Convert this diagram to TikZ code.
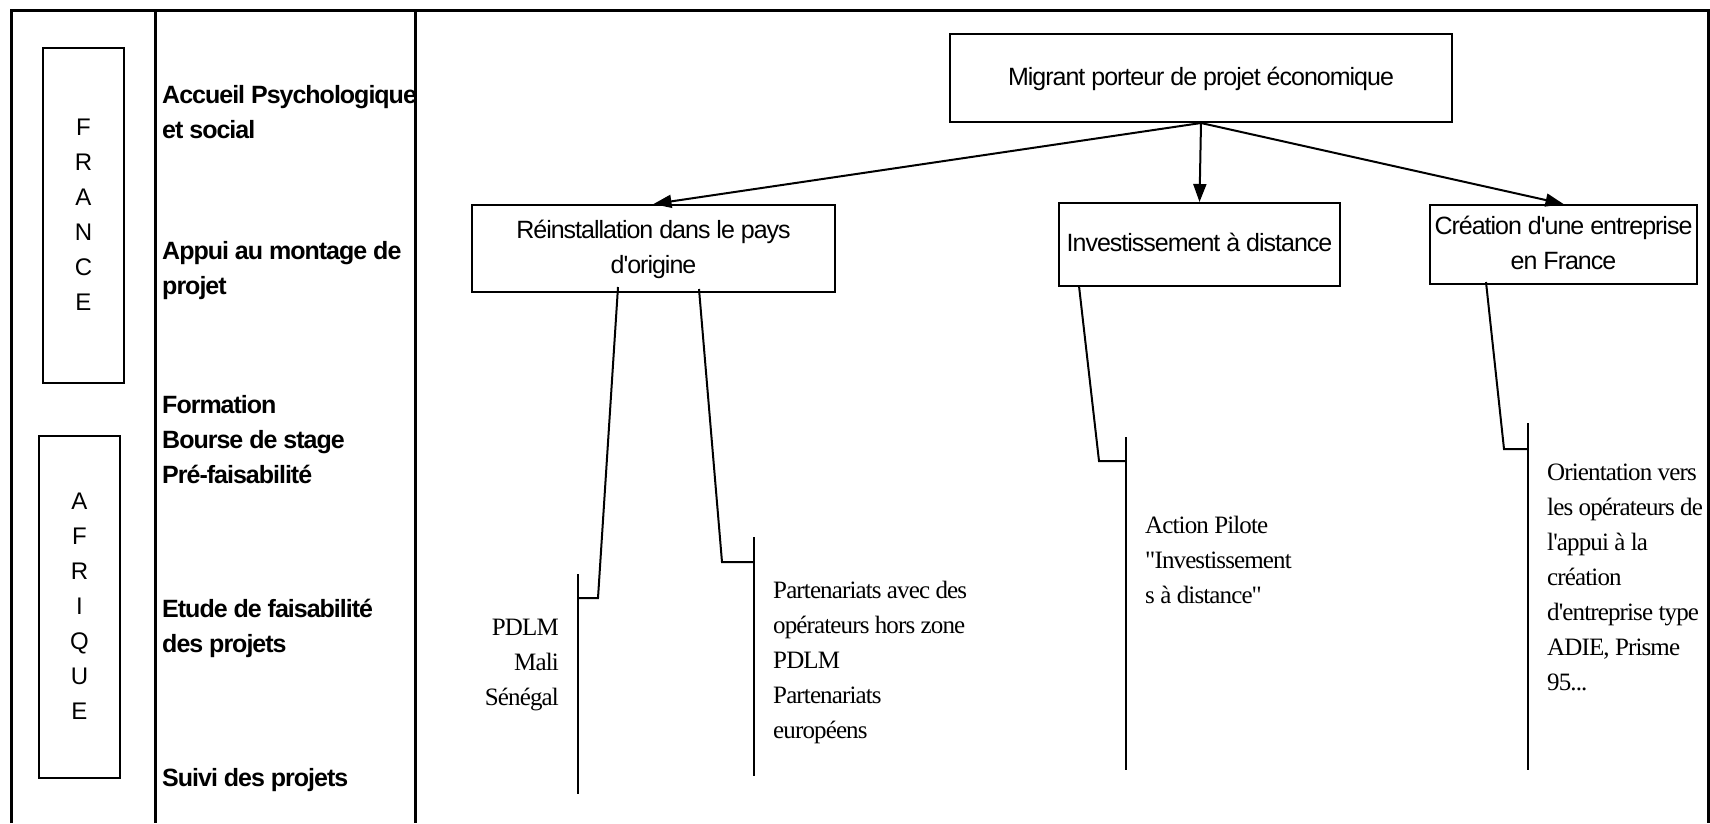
\documentclass[tikz,border=0pt]{standalone}
\usepackage{fontspec}
\setmainfont{Liberation Serif}[Ligatures=TeXOff,LetterSpace=-3.5]
\newfontfamily\sansf{Liberation Sans}[Ligatures=TeXOff,LetterSpace=-4]
\usetikzlibrary{arrows.meta}
\newcommand\Lrows[1]{\begin{tabular}[t]{@{}l@{}}#1\end{tabular}}
\newcommand\Crows[1]{\begin{tabular}[t]{@{}c@{}}#1\end{tabular}}
\newcommand\Rrows[1]{\begin{tabular}[t]{@{}r@{}}#1\end{tabular}}
\begin{document}
\begin{tikzpicture}[x=1pt,y=-1pt,
  box/.style={draw, line width=2pt, inner sep=0pt, font=\sansf\fontsize{25}{35}\selectfont},
  letterbox/.style={draw, line width=1.5pt, inner sep=0pt, minimum width=81pt, font=\sansf\fontsize{24}{35}\selectfont},
  lbl/.style={inner sep=0pt, anchor=base west, font=\sansf\bfseries\fontsize{25}{35}\selectfont},
  note/.style={inner sep=0pt, font=\fontsize{25}{35}\selectfont},
  arr/.style={line width=2pt, -{Triangle[length=18pt,width=13pt]}},
  link/.style={line width=2pt},
  frame/.style={line width=3pt, line join=miter}]
\useasboundingbox (0,0) rectangle (1710,823);
\fill[white] (0,0) rectangle (1710,823);
% frame
\draw[frame] (11,823) -- (11,10) -- (1708,10) -- (1708,823);
\draw[frame] (155,10) -- (155,823);
\draw[frame] (415,10) -- (415,823);
% region boxes
\node[letterbox, minimum height=335pt] (fr) at (83.5,215.5) {\Crows{F\\R\\A\\N\\C\\E}};
\node[letterbox, minimum height=342pt] (af) at (79.5,607) {\Crows{A\\F\\R\\I\\Q\\U\\E}};
% steps
\node[lbl] (s1) at (162,103) {\Lrows{Accueil Psychologique\\et social}};
\node[lbl] (s2) at (162,259) {\Lrows{Appui au montage de\\projet}};
\node[lbl] (s3) at (162,413) {\Lrows{Formation\\Bourse de stage\\Pré-faisabilité}};
\node[lbl] (s4) at (162,617) {\Lrows{Etude de faisabilité\\des projets}};
\node[lbl] (s5) at (162,786) {\Lrows{Suivi des projets}};
% boxes
\node[box, minimum width=502pt, minimum height=88pt] (mig) at (1201,78) {\Crows{Migrant porteur de projet économique}};
\node[box, minimum width=363pt, minimum height=87pt] (rei) at (653.5,248.5) {\Crows{Réinstallation dans le pays\\d'origine}};
\node[box, minimum width=281pt, minimum height=83pt] (inv) at (1199.5,244.5) {\Crows{Investissement à distance}};
\node[box, minimum width=267pt, minimum height=79pt] (cre) at (1563.5,244.5) {\Crows{Création d'une entreprise\\en France}};
% arrows
\draw[arr] (mig.south) -- (rei.north);
\draw[arr] (mig.south) -- (inv.north);
\draw[arr] (mig.south) -- (cre.north);
% brackets
\coordinate (r1s) at (618,287); \coordinate (r1k) at (598,598); \coordinate (r1b) at (578,598);
\coordinate (r1t) at (578,574); \coordinate (r1e) at (578,794);
\coordinate (r2s) at (699,289); \coordinate (r2k) at (722,562); \coordinate (r2b) at (754,562);
\coordinate (r2t) at (754,537); \coordinate (r2e) at (754,776);
\coordinate (i1s) at (1079,286); \coordinate (i1k) at (1099,461); \coordinate (i1b) at (1126,461);
\coordinate (i1t) at (1126,437); \coordinate (i1e) at (1126,770);
\coordinate (c1s) at (1486,282); \coordinate (c1k) at (1504,449); \coordinate (c1b) at (1528,449);
\coordinate (c1t) at (1528,423); \coordinate (c1e) at (1528,770);
\draw[link] (r1s) -- (r1k) -- (r1b);
\draw[link] (r1t) -- (r1e);
\draw[link] (r2s) -- (r2k) -- (r2b);
\draw[link] (r2t) -- (r2e);
\draw[link] (i1s) -- (i1k) -- (i1b);
\draw[link] (i1t) -- (i1e);
\draw[link] (c1s) -- (c1k) -- (c1b);
\draw[link] (c1t) -- (c1e);
% notes
\node[note, anchor=base east] (n1) at (559,635) {\Rrows{PDLM\\Mali\\Sénégal}};
\node[note, anchor=base west] (n2) at (773,598) {\Lrows{Partenariats avec des\\opérateurs hors zone\\PDLM\\Partenariats\\européens}};
\node[note, anchor=base west] (n3) at (1145,533) {\Lrows{Action Pilote\\"Investissement\\s à distance"}};
\node[note, anchor=base west] (n4) at (1547,480) {\Lrows{Orientation vers\\les opérateurs de\\l'appui à la\\création\\d'entreprise type\\ADIE, Prisme\\95...}};
\end{tikzpicture}
\end{document}
